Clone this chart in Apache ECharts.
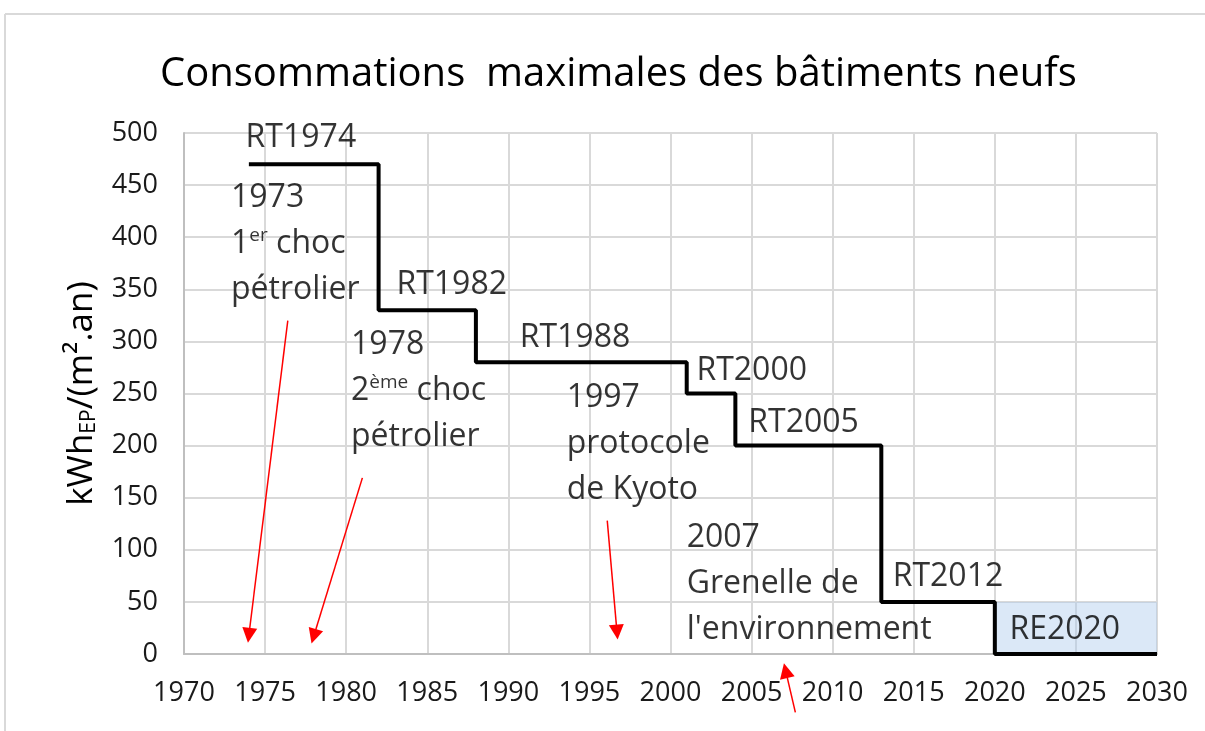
<!DOCTYPE html>
<html>
<head>
<meta charset="utf-8">
<script src="https://cdn.jsdelivr.net/npm/echarts@6/dist/echarts.min.js"></script>
<style>
  html, body { margin: 0; padding: 0; background: #fff; }
  #chart { width: 1205px; height: 731px; }
</style>
</head>
<body>
<div id="chart"></div>
<script>
// steps of the regulation (value holds until the next year)
var stepYears = [1974, 1982, 1988, 2001, 2004, 2013, 2020, 2030];
var stepValues = [470, 330, 280, 250, 200, 50, 0, 0];

var xTicks = [1970, 1975, 1980, 1985, 1990, 1995, 2000, 2005, 2010, 2015, 2020, 2025, 2030];
var yTicks = [0, 50, 100, 150, 200, 250, 300, 350, 400, 450, 500];

// names of each regulation, anchored in data units
var rtNames = ['RT1974', 'RT1982', 'RT1988', 'RT2000', 'RT2005', 'RT2012', 'RE2020'];
var rtX = [1973.8, 1983.1, 1990.7, 2001.6, 2004.8, 2013.7, 2020.9];
var rtY = [495, 354, 303, 272, 222, 74, 23];

// historical events
var eventText = [
  '1973\n1{sup|er} choc\npétrolier',
  '1978\n2{sup|ème} choc\npétrolier',
  '1997\nprotocole\nde Kyoto',
  '2007\nGrenelle de\nl\'environnement'
];
var eventX = [1972.9, 1980.3, 1993.6, 2001.0];
var eventY = [393.5, 252.4, 201.5, 67.2];

// red arrows [fromYear, fromValue, toYear, toValue]
var arrows = [
  [1976.4, 320, 1974.0, 18],
  [1981.0, 169, 1978.0, 17],
  [1996.1, 128, 1996.7, 21],
  [2007.7, -56, 2007.1, -16]
];

var font = 'Open Sans';
var chart = echarts.init(document.getElementById('chart'));

var labelPoints = rtNames.map(function (n, i) { return { value: [rtX[i], rtY[i]], name: n }; })
  .concat(eventText.map(function (t, i) { return { value: [eventX[i], eventY[i]], name: t }; }));

var option = {
  animation: false,
  title: {
    text: 'Consommations  maximales des bâtiments neufs',
    left: 155,
    top: 50,
    textStyle: { fontFamily: font, fontSize: 40, fontWeight: 'normal', color: '#000' }
  },
  graphic: [
    { type: 'line', shape: { x1: 5, y1: 14, x2: 1205, y2: 14 }, style: { stroke: '#d9d9d9', lineWidth: 2 } },
    { type: 'line', shape: { x1: 5, y1: 14, x2: 5, y2: 731 }, style: { stroke: '#d9d9d9', lineWidth: 2 } }
  ],
  grid: { left: 184, right: 48, top: 133, bottom: 77 },
  xAxis: {
    type: 'value',
    min: xTicks[0],
    max: xTicks[xTicks.length - 1],
    interval: 5,
    axisLine: { show: true, lineStyle: { color: '#bfbfbf', width: 2 } },
    axisTick: { show: false },
    splitLine: { show: true, lineStyle: { color: '#d9d9d9', width: 2 } },
    axisLabel: { fontFamily: font, fontSize: 27, color: '#1a1a1a', margin: 26, formatter: function (v) { return String(v); } }
  },
  yAxis: {
    type: 'value',
    min: yTicks[0],
    max: yTicks[yTicks.length - 1],
    interval: 50,
    name: '{n|kWh}{s|EP}{n|/(m²}{n|.an)}',
    nameLocation: 'middle',
    nameGap: 84,
    nameRotate: 90,
    nameTextStyle: {
      rich: {
        n: { fontFamily: font, fontSize: 35, color: '#000', lineHeight: 36 },
        s: { fontFamily: font, fontSize: 21, color: '#000', lineHeight: 22, verticalAlign: 'bottom' }
      }
    },
    axisLine: { show: true, lineStyle: { color: '#bfbfbf', width: 2 } },
    axisTick: { show: false },
    splitLine: { show: true, lineStyle: { color: '#d9d9d9', width: 2 } },
    axisLabel: { fontFamily: font, fontSize: 27, color: '#1a1a1a', margin: 26 }
  },
  series: [
    {
      type: 'line',
      step: 'end',
      data: stepYears.map(function (y, i) { return [y, stepValues[i]]; }),
      symbol: 'none',
      lineStyle: { color: '#000', width: 4 },
      z: 5,
      markArea: {
        silent: true,
        itemStyle: { color: 'rgba(170,200,235,0.42)' },
        data: [[{ coord: [2020, 0] }, { coord: [2030, 50] }]]
      }
    },
    {
      type: 'scatter',
      symbolSize: 0,
      data: labelPoints,
      z: 6,
      label: {
        show: true,
        position: 'inside',
        align: 'left',
        verticalAlign: 'middle',
        fontFamily: font,
        fontSize: 32,
        lineHeight: 46,
        color: '#000',
        formatter: function (p) { return p.name; },
        rich: {
          sup: { fontFamily: font, fontSize: 19, lineHeight: 46, color: '#000', padding: [0, 0, 16, 0] }
        }
      }
    },
    {
      type: 'lines',
      coordinateSystem: 'cartesian2d',
      clip: false,
      z: 7,
      symbol: ['none', 'triangle'],
      symbolSize: 15,
      lineStyle: { color: '#ff0000', width: 1.5, opacity: 1 },
      itemStyle: { color: '#ff0000' },
      data: arrows.map(function (a) { return { coords: [[a[0], a[1]], [a[2], a[3]]] }; })
    }
  ]
};

chart.setOption(option);
</script>
</body>
</html>
